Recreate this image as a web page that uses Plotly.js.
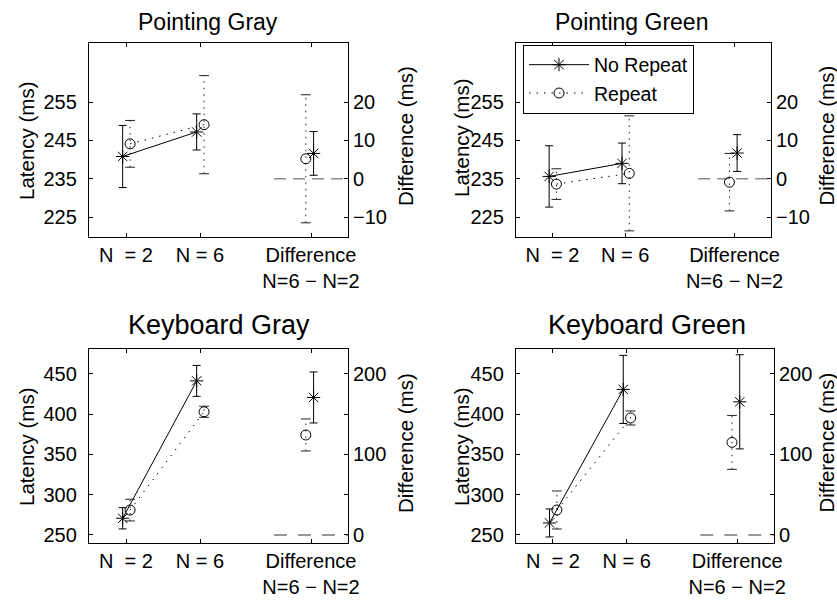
<!DOCTYPE html>
<html><head><meta charset="utf-8">
<script src="https://cdn.plot.ly/plotly-3.0.1.min.js"></script>
<style>html,body{margin:0;padding:0;background:#fff}#chart{width:837px;height:600px}</style>
</head><body><div id="chart"></div>
<script>
// ---------------- data ----------------
const categories = ['N  = 2', 'N = 6', 'Difference<br>N=6 \u2212 N=2'];
const panelTitles = ['Pointing Gray', 'Pointing Green', 'Keyboard Gray', 'Keyboard Green'];
const seriesNames = ['No Repeat', 'Repeat'];
const latencyLabel = 'Latency (ms)';
const diffLabel = 'Difference (ms)';

// mean latency (ms) at N=2, N=6 and error half-widths
const pointingGrayNoRepeat = [240.8, 247.2];
const pointingGrayNoRepeatErr = [8.1, 4.7];
const pointingGrayRepeat = [244.1, 249.1];
const pointingGrayRepeatErr = [6.1, 12.8];
const pointingGrayDiff = [6.6, 5.2];        // [No Repeat, Repeat]
const pointingGrayDiffErr = [5.7, 16.7];

const pointingGreenNoRepeat = [235.6, 239.0];
const pointingGreenNoRepeatErr = [8.0, 5.3];
const pointingGreenRepeat = [233.6, 236.4];
const pointingGreenRepeatErr = [4.0, 15.0];
const pointingGreenDiff = [6.7, -0.9];
const pointingGreenDiffErr = [4.8, 7.5];

const keyboardGrayNoRepeat = [270.7, 441.4];
const keyboardGrayNoRepeatErr = [13.2, 19.2];
const keyboardGrayRepeat = [280.9, 403.0];
const keyboardGrayRepeatErr = [13.5, 6.9];
const keyboardGrayDiff = [170.8, 124.2];
const keyboardGrayDiffErr = [31.7, 19.9];

const keyboardGreenNoRepeat = [264.9, 430.8];
const keyboardGreenNoRepeatErr = [17.4, 42.3];
const keyboardGreenRepeat = [281.0, 395.3];
const keyboardGreenRepeatErr = [23.6, 8.7];
const keyboardGreenDiff = [165.4, 115.0];
const keyboardGreenDiffErr = [58.5, 33.5];

const pointingLatencyTicks = [225, 235, 245, 255];
const pointingDiffTicks = [-10, 0, 10, 20];
const keyboardLatencyTicks = [250, 300, 350, 400, 450];
const keyboardDiffTicks = [0, 100, 200];
const zeroLine = [0, 0];

// ---------------- layout / drawing ----------------
const W = 837, H = 600;
const FONT = 'Liberation Sans, Arial, Helvetica, sans-serif';
const catPos = [1, 2, 3.5];
const zeroLineX = [3, 4];

const panels = [
  {nr: pointingGrayNoRepeat, nrE: pointingGrayNoRepeatErr, r: pointingGrayRepeat, rE: pointingGrayRepeatErr,
   d: pointingGrayDiff, dE: pointingGrayDiffErr, lt: pointingLatencyTicks, dt: pointingDiffTicks,
   yr: [219.8, 270.4], off: 235, box: [89, 348, 43, 237], zc: '#8a8a8a', zw: 1.6, zd: '12px,7px',
   title: {x: 207.5, y: 22.5, s: 23}, lab: {lx: 26, ly: 141, rx: 405, ry: 136}},
  {nr: pointingGreenNoRepeat, nrE: pointingGreenNoRepeatErr, r: pointingGreenRepeat, rE: pointingGreenRepeatErr,
   d: pointingGreenDiff, dE: pointingGreenDiffErr, lt: pointingLatencyTicks, dt: pointingDiffTicks,
   yr: [219.8, 270.4], off: 235, box: [516, 771, 43, 237], zc: '#8a8a8a', zw: 1.6, zd: '12px,7px',
   title: {x: 631, y: 22.5, s: 23}, lab: {lx: 461, ly: 138, rx: 825.5, ry: 136}},
  {nr: keyboardGrayNoRepeat, nrE: keyboardGrayNoRepeatErr, r: keyboardGrayRepeat, rE: keyboardGrayRepeatErr,
   d: keyboardGrayDiff, dE: keyboardGrayDiffErr, lt: keyboardLatencyTicks, dt: keyboardDiffTicks,
   yr: [240, 481], off: 250, box: [89, 348, 349, 543], zc: '#333333', zw: 1.1, zd: '13px,11px',
   title: {x: 219, y: 325, s: 27}, lab: {lx: 26, ly: 447, rx: 405, ry: 443}},
  {nr: keyboardGreenNoRepeat, nrE: keyboardGreenNoRepeatErr, r: keyboardGreenRepeat, rE: keyboardGreenRepeatErr,
   d: keyboardGreenDiff, dE: keyboardGreenDiffErr, lt: keyboardLatencyTicks, dt: keyboardDiffTicks,
   yr: [240, 481], off: 250, box: [516, 774, 349, 543], zc: '#333333', zw: 1.1, zd: '13px,11px',
   title: {x: 646.5, y: 325, s: 27}, lab: {lx: 461, ly: 447, rx: 825.5, ry: 443}}
];

const traces = [];
const layout = {
  width: W, height: H, margin: {l: 0, r: 0, t: 0, b: 0},
  paper_bgcolor: '#fff', plot_bgcolor: '#fff',
  font: {family: FONT, size: 20, color: '#000'},
  showlegend: true,
  legend: {x: 523 / W, y: 1 - 44.5 / H, xanchor: 'left', yanchor: 'top', bgcolor: '#fff',
           bordercolor: '#000', borderwidth: 1, font: {family: FONT, size: 19.5, color: '#000'},
           itemwidth: 60, tracegroupgap: 0},
  annotations: []
};

const NR_OFF = -0.045, R_OFF = 0.055, DNR_OFF = 0.035, DR_OFF = -0.07;

panels.forEach((p, i) => {
  const k = i + 1;
  const xa = 'x' + (k === 1 ? '' : k), ya = 'y' + (k === 1 ? '' : k), yb = 'y' + (k + 4);
  const xName = 'xaxis' + (k === 1 ? '' : k), yName = 'yaxis' + (k === 1 ? '' : k), ybName = 'yaxis' + (k + 4);
  const [x0, x1, y0, y1] = p.box;
  const axCommon = {showgrid: false, zeroline: false, ticks: 'inside', ticklen: 4, tickwidth: 1,
    tickcolor: '#000', linecolor: '#000', linewidth: 1.2, tickfont: {family: FONT, size: 20, color: '#000'},
    fixedrange: true};
  layout[xName] = Object.assign({}, axCommon, {domain: [x0 / W, x1 / W], anchor: ya, range: [0.5, 4],
    tickmode: 'array', tickvals: catPos, ticktext: categories, showline: true, mirror: 'ticks',
    ticklabelstandoff: 0});
  layout[yName] = Object.assign({}, axCommon, {domain: [1 - y1 / H, 1 - y0 / H], anchor: xa, range: p.yr,
    tickmode: 'array', tickvals: p.lt, showline: true, mirror: 'ticks', ticklabelstandoff: 7});
  layout[ybName] = Object.assign({}, axCommon, {overlaying: ya, side: 'right', anchor: xa,
    range: [p.yr[0] - p.off, p.yr[1] - p.off], tickmode: 'array', tickvals: p.dt,
    ticktext: p.dt.map(v => v < 0 ? '\u2212' + Math.abs(v) : String(v)), showline: false, ticklabelstandoff: 4});

  const leg = (k === 2);
  const nrX = [catPos[0] + NR_OFF, catPos[1] + NR_OFF];
  const rX = [catPos[0] + R_OFF, catPos[1] + R_OFF];

  // zero reference line for the difference axis
  traces.push({x: zeroLineX, y: zeroLine, xaxis: xa, yaxis: yb, mode: 'lines', showlegend: false,
    hoverinfo: 'skip', line: {color: p.zc, width: p.zw, dash: p.zd}});

  // Repeat dotted error bars (latency)
  const ex = [], ey = [];
  rX.forEach((x, j) => { ex.push(x, x, null); ey.push(p.r[j] - p.rE[j], p.r[j] + p.rE[j], null); });
  traces.push({x: ex, y: ey, xaxis: xa, yaxis: ya, mode: 'lines+markers', showlegend: false, hoverinfo: 'skip',
    line: {color: '#222', width: 1, dash: '1.5px,5px'},
    marker: {symbol: 'line-ew', size: 7, line: {width: 1, color: '#222'}}});
  // Repeat dotted error bar (difference)
  const dx = catPos[2] + DR_OFF;
  traces.push({x: [dx, dx], y: [p.d[1] - p.dE[1], p.d[1] + p.dE[1]], xaxis: xa, yaxis: yb,
    mode: 'lines+markers', showlegend: false, hoverinfo: 'skip',
    line: {color: '#222', width: 1, dash: '1.5px,5px'},
    marker: {symbol: 'line-ew', size: 7, line: {width: 1, color: '#222'}}});

  // No Repeat
  traces.push({x: nrX, y: p.nr, xaxis: xa, yaxis: ya, mode: 'lines+markers', name: seriesNames[0],
    legendrank: 1, showlegend: leg, line: {color: '#000', width: 1},
    marker: {symbol: 'asterisk-open', size: 11, color: '#000', line: {width: 1, color: '#000'}},
    error_y: {type: 'data', array: p.nrE, visible: true, color: '#000', thickness: 1, width: 4}});
  // Repeat
  traces.push({x: rX, y: p.r, xaxis: xa, yaxis: ya, mode: 'lines+markers', name: seriesNames[1],
    legendrank: 2, showlegend: leg, line: {color: '#000', width: 1, dash: '1.5px,6px'},
    marker: {symbol: 'circle-open', size: 10, color: '#000', line: {width: 1, color: '#000'}}});
  // Differences
  traces.push({x: [catPos[2] + DNR_OFF], y: [p.d[0]], xaxis: xa, yaxis: yb, mode: 'markers', showlegend: false,
    marker: {symbol: 'asterisk-open', size: 11, color: '#000', line: {width: 1, color: '#000'}},
    error_y: {type: 'data', array: [p.dE[0]], visible: true, color: '#000', thickness: 1, width: 4}});
  traces.push({x: [dx], y: [p.d[1]], xaxis: xa, yaxis: yb, mode: 'markers', showlegend: false,
    marker: {symbol: 'circle-open', size: 10, color: '#000', line: {width: 1, color: '#000'}}});

  // titles and axis labels
  layout.annotations.push({text: panelTitles[i], xref: 'paper', yref: 'paper', x: p.title.x / W,
    y: 1 - p.title.y / H, xanchor: 'center', yanchor: 'middle', showarrow: false,
    font: {family: FONT, size: p.title.s, color: '#000'}});
  layout.annotations.push({text: latencyLabel, xref: 'paper', yref: 'paper', x: p.lab.lx / W,
    y: 1 - p.lab.ly / H, xanchor: 'center', yanchor: 'middle', showarrow: false, textangle: -90,
    font: {family: FONT, size: 20.5, color: '#000'}});
  layout.annotations.push({text: diffLabel, xref: 'paper', yref: 'paper', x: p.lab.rx / W,
    y: 1 - p.lab.ry / H, xanchor: 'center', yanchor: 'middle', showarrow: false, textangle: -90,
    font: {family: FONT, size: 20.5, color: '#000'}});
});

Plotly.newPlot('chart', traces, layout, {displayModeBar: false, staticPlot: true});
</script>
</body></html>
